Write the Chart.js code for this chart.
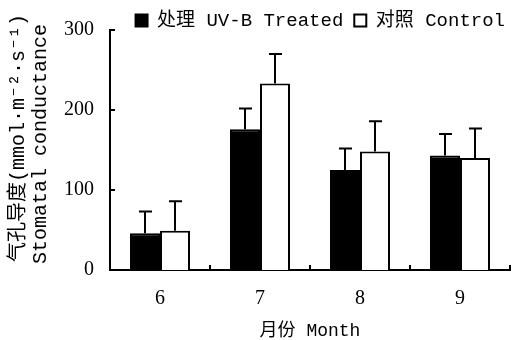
<!DOCTYPE html>
<html>
<head>
<meta charset="utf-8">
<script src="https://cdn.jsdelivr.net/npm/chart.js@4/dist/chart.umd.min.js"></script>
<style>
html,body{margin:0;padding:0;background:#fff;}
#wrap{width:514px;height:340px;}
</style>
</head>
<body>
<div id="wrap"><canvas id="c" width="514" height="340"></canvas></div>
<script>
const months = ['6', '7', '8', '9'];
const treated = [46, 176, 125, 143];
const treatedErr = [27, 26, 27, 27];
const control = [49, 233, 148, 140];
const controlErr = [37, 37, 38, 37];
const yTicks = [0, 100, 200, 300];
const legendTreated = '处理 UV-B Treated';
const legendControl = '对照 Control';
const yTitle = ['  气孔导度(mmol·m⁻²·s⁻¹)', ' Stomatal conductance'];
const xTitle = '月份 Month';

const monoFont = "'Liberation Mono', 'Noto Sans CJK SC', monospace";
const serifFont = "'Liberation Serif', 'Noto Sans CJK SC', serif";

const errorBars = {
  id: 'errorBars',
  afterDatasetsDraw(chart) {
    const ctx = chart.ctx;
    const ys = chart.scales.y;
    const errs = [treatedErr, controlErr];
    ctx.save();
    ctx.strokeStyle = '#000';
    ctx.lineWidth = 2;
    chart.data.datasets.forEach((ds, di) => {
      const meta = chart.getDatasetMeta(di);
      meta.data.forEach((bar, i) => {
        const v = ds.data[i];
        const top = ys.getPixelForValue(v + errs[di][i]);
        const base = ys.getPixelForValue(v);
        ctx.beginPath();
        ctx.moveTo(bar.x, base);
        ctx.lineTo(bar.x, top);
        ctx.moveTo(bar.x - 6, top);
        ctx.lineTo(bar.x + 7, top);
        ctx.stroke();
      });
    });
    ctx.restore();
  }
};

const innerTicks = {
  id: 'innerTicks',
  afterDraw(chart) {
    const ctx = chart.ctx;
    const xs = chart.scales.x, ys = chart.scales.y;
    const area = chart.chartArea;
    ctx.save();
    ctx.strokeStyle = '#000';
    ctx.lineWidth = 2;
    ctx.beginPath();
    yTicks.forEach(t => {
      const py = ys.getPixelForValue(t);
      ctx.moveTo(area.left, py);
      ctx.lineTo(area.left + 5, py);
    });
    const n = months.length;
    for (let i = 0; i < n; i++) {
      const half = (xs.getPixelForValue(1) - xs.getPixelForValue(0)) / 2;
      const px = xs.getPixelForValue(i) + half;
      ctx.moveTo(px, area.bottom);
      ctx.lineTo(px, area.bottom - 5);
    }
    ctx.stroke();
    ctx.restore();
  }
};

const legendShift = {
  id: 'legendShift',
  afterLayout(chart) {
    if (chart.legend) { chart.legend.right += 6; }
  }
};

new Chart(document.getElementById('c'), {
  type: 'bar',
  data: {
    labels: months,
    datasets: [
      { label: legendTreated, data: treated, backgroundColor: '#000', borderColor: '#000', borderWidth: 2 },
      { label: legendControl, data: control, backgroundColor: '#fff', borderColor: '#000', borderWidth: 2 }
    ]
  },
  options: {
    responsive: false,
    animation: false,
    devicePixelRatio: 1,
    categoryPercentage: 0.6,
    barPercentage: 1.0,
    layout: { padding: { top: 0, right: 4, bottom: 0, left: 0 } },
    plugins: {
      tooltip: { enabled: false },
      legend: {
        position: 'top',
        align: 'end',
        maxHeight: 30,
        labels: {
          boxWidth: 12,
          boxHeight: 12,
          padding: 11,
          color: '#000',
          font: { family: monoFont, size: 19 },
          generateLabels(chart) {
            return chart.data.datasets.map((ds, i) => ({
              text: ds.label,
              fillStyle: ds.backgroundColor,
              strokeStyle: '#000',
              lineWidth: 2,
              datasetIndex: i,
              hidden: false,
              fontColor: '#000'
            }));
          }
        }
      }
    },
    scales: {
      x: {
        grid: { display: false, drawTicks: false },
        border: { display: true, color: '#000', width: 2 },
        ticks: { color: '#000', padding: 17, font: { family: serifFont, size: 20 } },
        title: { display: true, text: xTitle, color: '#000', padding: { top: 0, bottom: 0 }, font: { family: monoFont, size: 18, lineHeight: 1.0 } },
        afterFit(s) { s.height = 70; }
      },
      y: {
        min: 0,
        max: 300,
        afterBuildTicks(s) { s.ticks = yTicks.map(v => ({ value: v })); },
        grid: { display: false, drawTicks: false },
        border: { display: true, color: '#000', width: 2 },
        ticks: { color: '#000', padding: 16, font: { family: serifFont, size: 20 } },
        title: { display: true, text: yTitle, color: '#000', padding: { top: 8, bottom: 0 }, font: { family: monoFont, size: 20, lineHeight: 1.1 } },
        afterFit(s) { s.width = 110; }
      }
    }
  },
  plugins: [errorBars, innerTicks, legendShift]
});
</script>
</body>
</html>
